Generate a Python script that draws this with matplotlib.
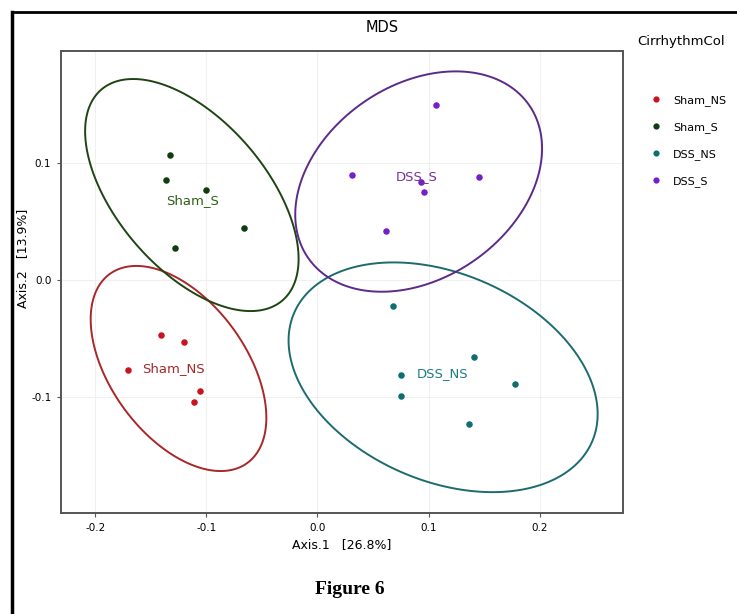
import numpy as np
import matplotlib
matplotlib.use("Agg")
import matplotlib.pyplot as plt
from matplotlib.lines import Line2D
from matplotlib.patches import Polygon

# MDS coordinates
groups = ["Sham_NS", "Sham_S", "DSS_NS", "DSS_S"]
sham_ns_x = [-0.170, -0.141, -0.120, -0.106, -0.111]
sham_ns_y = [-0.077, -0.047, -0.053, -0.095, -0.104]
sham_s_x = [-0.133, -0.136, -0.100, -0.066, -0.128]
sham_s_y = [0.107, 0.085, 0.077, 0.044, 0.027]
dss_ns_x = [0.068, 0.141, 0.075, 0.178, 0.075, 0.136]
dss_ns_y = [-0.022, -0.066, -0.081, -0.089, -0.099, -0.123]
dss_s_x = [0.107, 0.031, 0.093, 0.096, 0.145, 0.062]
dss_s_y = [0.149, 0.090, 0.084, 0.075, 0.088, 0.042]

# confidence ellipses: centre, half width, half height, correlation
ell_cx = [-0.125, -0.113, 0.113, 0.091]
ell_cy = [-0.0755, 0.0725, -0.083, 0.084]
ell_sx = [0.079, 0.096, 0.139, 0.111]
ell_sy = [0.0875, 0.099, 0.098, 0.094]
ell_rho = [-0.48, -0.55, -0.32, 0.30]

xs = [sham_ns_x, sham_s_x, dss_ns_x, dss_s_x]
ys = [sham_ns_y, sham_s_y, dss_ns_y, dss_s_y]

pt_colors = ["#c8141e", "#0f3d0f", "#0f6e70", "#7420c8"]
line_colors = ["#a8282a", "#1e4414", "#1d6b6e", "#5c2a88"]
txt_colors = ["#a8282a", "#2f6018", "#1e7c8a", "#74339a"]

fig = plt.figure(figsize=(7.37, 6.14), dpi=100)
ax = fig.add_axes([61 / 737, 1 - 513 / 614, (623 - 61) / 737, (513 - 51) / 614])

t = np.linspace(0, 2 * np.pi, 300, endpoint=False)
for i, g in enumerate(groups):
    d = np.arccos(ell_rho[i])
    ex = ell_cx[i] + ell_sx[i] * np.cos(t)
    ey = ell_cy[i] + ell_sy[i] * np.cos(t + d)
    ax.add_patch(Polygon(np.column_stack([ex, ey]), closed=True, fill=False,
                         edgecolor=line_colors[i], lw=1.4, zorder=2))
    ax.scatter(xs[i], ys[i], s=22, color=pt_colors[i], zorder=3, linewidths=0)
    ax.text(np.mean(xs[i]), np.mean(ys[i]), g, color=txt_colors[i],
            fontsize=9.5, ha="center", va="center", zorder=4)

ax.set_xlim(-0.2307, 0.2748)
ax.set_ylim(-0.1988, 0.1954)
ax.set_xticks([-0.2, -0.1, 0.0, 0.1, 0.2])
ax.set_yticks([-0.1, 0.0, 0.1])
ax.set_xticklabels(["-0.2", "-0.1", "0.0", "0.1", "0.2"])
ax.set_yticklabels(["-0.1", "0.0", "0.1"])
ax.tick_params(labelsize=7.5, length=3, width=0.8, color="#555555", pad=4)
ax.grid(True, color="#f0f0f0", lw=0.8)
ax.set_axisbelow(True)
for sp in ax.spines.values():
    sp.set_color("#555555")
    sp.set_linewidth(1.4)

ax.set_xlabel("Axis.1   [26.8%]", fontsize=9)
fig.text(23 / 737, 1 - 258 / 614, "Axis.2   [13.9%]", rotation=90,
         fontsize=9, ha="center", va="center")
fig.text(382 / 737, 1 - 27 / 614, "MDS", fontsize=10.5, ha="center", va="center")

# legend
fig.text(637 / 737, 1 - 42 / 614, "CirrhythmCol", fontsize=9.5, ha="left", va="center")
handles = [Line2D([], [], ls="", marker="o", ms=4.5, color=pt_colors[i],
                  markeredgewidth=0) for i in range(len(groups))]
fig.legend(handles, groups, loc="upper left",
           bbox_to_anchor=(650 / 737, 1 - 95 / 614), frameon=False,
           fontsize=8, handlelength=1.0, handletextpad=1.1,
           labelspacing=1.45, borderpad=0, borderaxespad=0)

fig.text(350 / 737, 1 - 590 / 614, "Figure 6", fontsize=14, fontweight="bold",
         family="Liberation Serif", ha="center", va="center")

# outer frame of the figure panel
fig.add_artist(Line2D([12 / 737, 12 / 737], [0, 1 - 12 / 614], color="black",
                      lw=2.5, transform=fig.transFigure))
fig.add_artist(Line2D([12 / 737, 1], [1 - 12 / 614, 1 - 12 / 614], color="black",
                      lw=2.0, transform=fig.transFigure))

fig.savefig("out.png", dpi=100)
